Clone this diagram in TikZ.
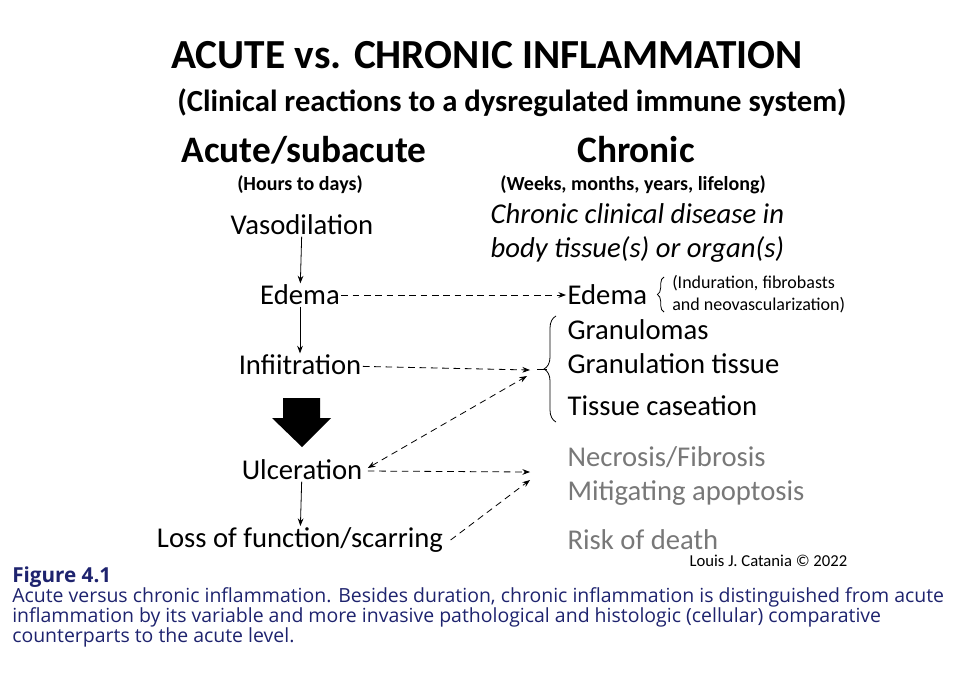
\documentclass[tikz,border=0pt]{standalone}
\usepackage{fontspec}
\setmainfont{Carlito}
\newfontfamily\capfont{Open Sans}
\usetikzlibrary{arrows.meta, decorations.pathreplacing, positioning}
\definecolor{navycap}{RGB}{30,35,110}
\definecolor{greytext}{RGB}{120,120,120}
\tikzset{>=Stealth,
  step label/.style={font=\fontsize{21.5}{24}\selectfont, inner sep=1pt},
  chronic label/.style={font=\fontsize{21.5}{24}\selectfont, anchor=west, inner sep=1pt},
  flow/.style={->, semithick},
  link/.style={->, semithick, dash pattern=on 5pt off 3.5pt}}
\begin{document}
\begin{tikzpicture}[x=0.75pt, y=-0.75pt]
\useasboundingbox (0,0) rectangle (980,676);

% headings
\node (title) at (487,55) {\bfseries\fontsize{31}{34}\selectfont ACUTE vs. CHRONIC INFLAMMATION};
\node (subtitle) at (512,103) {\bfseries\fontsize{23}{26}\selectfont (Clinical reactions to a dysregulated immune system)};
\node (acute) at (304,150) {\bfseries\fontsize{28}{32}\selectfont Acute/subacute};
\node (chronic) at (636,150) {\bfseries\fontsize{28}{32}\selectfont Chronic};
\node (acutetime) at (300,185) {\bfseries\fontsize{15}{17}\selectfont (Hours to days)};
\node (chronictime) at (633,185) {\bfseries\fontsize{15}{17}\selectfont (Weeks, months, years, lifelong)};
\node[anchor=west] (disease1) at (486,214) {\itshape\fontsize{21.5}{24}\selectfont Chronic clinical disease in};
\node[anchor=west] (disease2) at (486,249) {\itshape\fontsize{21.5}{24}\selectfont body tissue(s) or organ(s)};

% acute column
\node[step label] (vaso) at (302,225) {Vasodilation};
\node[step label] (edema) at (300,295) {Edema};
\node[step label] (infil) at (300,365) {Infiitration};
\node[step label] (ulcer) at (302,470) {Ulceration};
\node[step label] (loss) at (300,540) {Loss of function/scarring};

\draw[flow] (vaso) -- (edema);
\draw[flow] (edema) -- (infil);
\draw[flow] (ulcer) -- (loss);
\fill (283,398) -- (320,398) -- (320,418) -- (331,418) -- (302,447) -- (272,418) -- (283,418) -- cycle;

% chronic column
\node[chronic label] (cedema) at (566,295) {Edema};
\node[anchor=west, align=left, font=\fontsize{13.5}{16}\selectfont, inner sep=0pt] (indur) at (672,294) {(Induration, fibrobasts\\and neovascularization)};
\draw[semithick, decorate, decoration={brace, amplitude=5pt}] (664,312) -- (664,277);
\node[chronic label] (granul) at (566,330) {Granulomas};
\node[chronic label] (gtissue) at (566,364) {Granulation tissue};
\node[chronic label] (caseat) at (566,406) {Tissue caseation};
\draw[semithick, decorate, decoration={brace, amplitude=9pt}] (556,422) -- (556,316);
\coordinate (bracetip) at (530,370);
\draw[semithick] (537,369) -- (547,369);
\node[chronic label, text=greytext] (necro) at (566,457) {Necrosis/Fibrosis};
\node[chronic label, text=greytext] (mitig) at (566,493) {Mitigating apoptosis};
\node[chronic label, text=greytext] (risk) at (566,540) {Risk of death};
\coordinate (greytip) at (530,472);

% links
\draw[link] (edema) -- (cedema);
\draw[link] (infil) -- (bracetip);
\draw[link, <->] (ulcer.east) ++(4,-2) -- (527,376);
\draw[link] (ulcer.east) ++(4,1) -- (greytip);
\draw[link] (loss.east) ++(6,0) -- (530,480);

\node[anchor=east, font=\fontsize{12.5}{14}\selectfont] (credit) at (852,561) {Louis J. Catania \textcopyright{} 2022};

% caption
\node[anchor=north west, align=left, text=navycap, inner sep=0pt, font=\capfont\fontsize{14.6}{15}\selectfont] (caption) at (12,567)
  {{\bfseries\fontsize{15.5}{15}\selectfont Figure 4.1}\\
  Acute versus chronic inflammation. Besides duration, chronic inflammation is distinguished from acute\\
  inflammation by its variable and more invasive pathological and histologic (cellular) comparative\\
  counterparts to the acute level.};
\end{tikzpicture}
\end{document}
